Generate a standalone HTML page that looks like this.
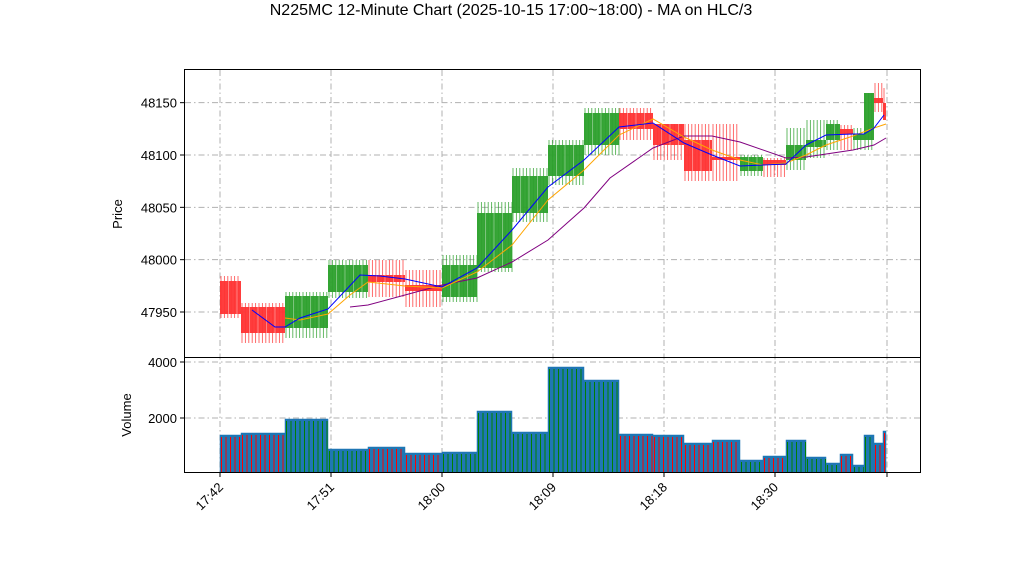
<!DOCTYPE html><html><head><meta charset="utf-8"><style>body{margin:0;background:#fff}svg{font-family:"Liberation Sans","DejaVu Sans",sans-serif}</style></head><body>
<svg id="s" width="1022" height="575" viewBox="0 0 1022 575" xmlns="http://www.w3.org/2000/svg">
<rect width="1022" height="575" fill="#fff"/>
<text x="511" y="15" font-size="16" text-anchor="middle">N225MC 12-Minute Chart (2025-10-15 17:00~18:00) - MA on HLC/3</text>
<g id="grid" stroke="#b0b0b0" stroke-width="1" stroke-dasharray="6,3,1.5,3"></g>
<g id="c"></g>
<g id="v"></g>
<polyline fill="none" stroke="#800080" stroke-width="1" points="350,307 368,305 405,295 442,285 477,278 512,262 548,240 584,208 610,178 653,148 684,136 712,136 740,142 786,158 806,157 853,150 874,145 886,138"/>
<polyline fill="none" stroke="#ffa500" stroke-width="1" points="285,318 300,320 328,314 350,295 368,282 405,286 442,288 477,272 512,245 548,200 584,170 619,135 653,119 684,137 712,150 740,160 763,165 786,163 806,155 826,145 853,136 874,128 886,124"/>
<polyline fill="none" stroke="#0000ff" stroke-width="1" points="252,310 275,327 285,327 300,318 328,309 360,275 380,276 405,279 442,287 477,268 512,230 548,187 584,160 619,127 653,123 684,143 712,155 740,166 763,165 786,164 806,145 826,135 853,134 864,134 874,128 884,115"/>
<rect x="184.5" y="69.5" width="736" height="288" fill="none" stroke="#000"/>
<rect x="184.5" y="357.5" width="736" height="115" fill="none" stroke="#000"/>
<g id="t" font-size="13"></g>
<text x="122" y="214" font-size="13" text-anchor="middle" transform="rotate(-90 122 214)">Price</text>
<text x="131" y="415" font-size="13" text-anchor="middle" transform="rotate(-90 131 415)">Volume</text>
</svg>
<script>
var NS="http://www.w3.org/2000/svg",g=document.getElementById('grid'),c=document.getElementById('c'),v=document.getElementById('v'),t=document.getElementById('t');
function el(p,tag,a,txt){var e=document.createElementNS(NS,tag);for(var k in a)e.setAttribute(k,a[k]);if(txt)e.textContent=txt;p.appendChild(e);return e;}
var xt=[[220,"17:42"],[331,"17:51"],[442,"18:00"],[553,"18:09"],[664,"18:18"],[775,"18:30"],[887,""]];
xt.forEach(function(a){el(g,'line',{x1:a[0],x2:a[0],y1:70,y2:472});el(t,'line',{x1:a[0],x2:a[0],y1:473,y2:477,stroke:'#000'});
 if(a[1])el(t,'text',{x:a[0]+4,y:488,'text-anchor':'end',transform:'rotate(-45 '+(a[0]+4)+' 488)'},a[1]);});
function py(p){return 155+(48100-p)*1.0467;}
[47950,48000,48050,48100,48150].forEach(function(p){var y=py(p);el(g,'line',{x1:185,x2:920,y1:y,y2:y});el(t,'line',{x1:180,x2:184,y1:y,y2:y,stroke:'#000'});el(t,'text',{x:177,y:y+5,'text-anchor':'end'},p);});
[[2000,418],[4000,362]].forEach(function(a){el(g,'line',{x1:185,x2:920,y1:a[1],y2:a[1]});el(t,'line',{x1:180,x2:184,y1:a[1],y2:a[1],stroke:'#000'});el(t,'text',{x:177,y:a[1]+5,'text-anchor':'end'},a[0]);});
var C=[[220,241,'r',281,314,276,318,435],[241,285,'r',307,333,303,343,433],[285,328,'g',296,328,292,338,419],[328,368,'g',265,292,260,298,449],[368,405,'r',275,282,260,297,447],[405,442,'r',285,291,270,307,453],[442,477,'g',265,297,255,302,452],[477,512,'g',213,268,202,272,411],[512,548,'g',176,213,168,222,432],[548,584,'g',145,176,140,185,367],[584,619,'g',113,145,108,155,380],[619,653,'r',113,129,108,140,434],[653,684,'r',124,145,124,160,435],[684,712,'r',140,171,124,181,443],[712,740,'r',157,160,124,181,440],[740,763,'g',157,171,155,176,460],[763,786,'r',160,165,158,177,456],[786,806,'g',145,160,128,170,440],[806,826,'g',140,147,120,158,457],[826,840,'g',124,140,120,150,463],[840,853,'r',129,134,125,150,454],[853,864,'g',134,140,128,150,465],[864,874,'g',93,140,93,150,435],[874,883,'r',98,103,83,112,443],[883,886,'r',103,120,88,120,431]];
C.forEach(function(d){var col=d[2]=='r'?'#ff3333':'#2ca02c',sc=d[2]=='r'?'#ff0000':'#008000';
 for(var x=d[0]+1;x<d[1];x+=3.4)el(c,'line',{x1:x,x2:x,y1:d[5],y2:d[6],stroke:col,'stroke-width':0.9,opacity:0.8});
 el(c,'rect',{x:d[0],y:d[3],width:d[1]-d[0],height:Math.max(2,d[4]-d[3]),fill:col,opacity:0.95});
 if(d[4]-d[3]>6)for(var x=d[0]+8.5;x<d[1]-2;x+=8.5)el(c,'line',{x1:x,x2:x,y1:d[3],y2:d[4],stroke:'#fff','stroke-width':0.6,opacity:0.6});
 el(v,'rect',{x:d[0],y:d[7],width:d[1]-d[0],height:472-d[7],fill:'#1f77b4',stroke:'#1f77b4','stroke-width':0.5});
 for(var x=d[0]+1.5;x<d[1];x+=4.5)el(v,'line',{x1:x,x2:x,y1:d[7]+2,y2:472,stroke:sc,'stroke-width':1});});
</script>
</body></html>
